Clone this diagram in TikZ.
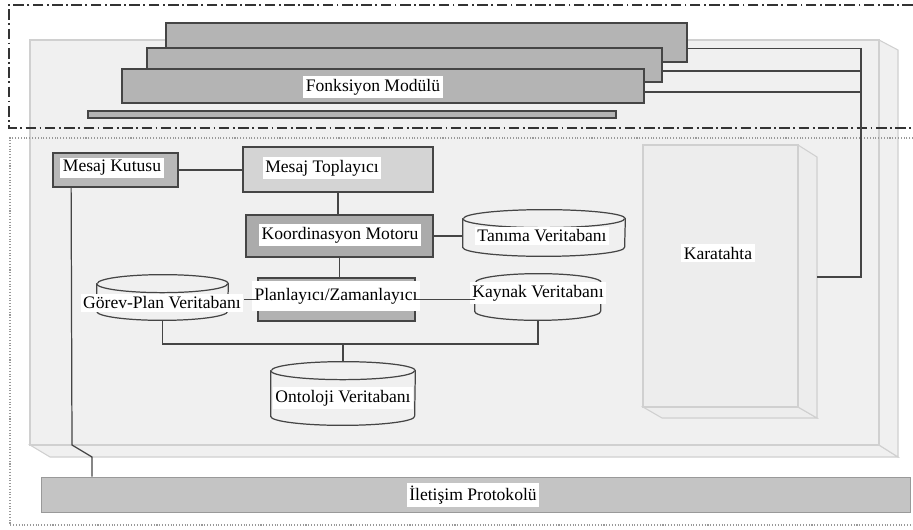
\documentclass[tikz,border=0pt]{standalone}
\usepackage{fontspec}
\setmainfont{Liberation Serif}
\usetikzlibrary{fit}
\definecolor{panelgray}{HTML}{F0F0F0}
\definecolor{edgegray}{HTML}{D0D0D0}
\definecolor{bargray}{HTML}{B4B4B4}
\definecolor{wiregray}{HTML}{454545}
% cylinder drawn round a fitted node: #1 node, #2 half width
\newcommand{\dbdraw}[2]{%
  \filldraw[dbline] ([yshift=-0.18cm]#1.north west) -- ([yshift=0.18cm]#1.south west)
    arc[start angle=180, end angle=360, x radius=#2, y radius=0.18cm]
    -- ([yshift=-0.18cm]#1.north east)
    arc[start angle=0, end angle=180, x radius=#2, y radius=0.18cm] -- cycle;
  \draw[dbline] ([yshift=-0.18cm]#1.north west)
    arc[start angle=180, end angle=360, x radius=#2, y radius=0.18cm];}
\begin{document}
\begin{tikzpicture}[x=0.02cm, y=-0.02cm,
    wire/.style={wiregray, line width=0.7pt},
    modbox/.style={draw=wiregray, line width=1pt, inner sep=0pt},
    lbl/.style={fill=white, inner sep=1.5pt, font=\fontsize{10}{12}\selectfont},
    dbline/.style={draw=wiregray, fill=panelgray, line width=0.7pt},
    dbase/.style={inner sep=0pt},
    face/.style={fill=panelgray, draw=edgegray, line width=0.6pt}]
\useasboundingbox (0,0) rectangle (913,530);

% big panel
\filldraw[face] (30,445) -- (50,457) -- (898,457) -- (879,445) -- cycle;
\filldraw[face] (879,40) -- (898,50) -- (898,457) -- (879,445) -- cycle;
\filldraw[face] (30,40) rectangle (879,445);

% frames
\draw[black!80, line width=0.9pt, dash pattern=on 6pt off 2pt on 1pt off 2pt]
    (913,5) -- (9,5) -- (9,128) -- (913,128);
\draw[black!40, densely dotted, line width=0.6pt]
    (913,138) -- (10,138) -- (10,525) -- (913,525);

% function modules
\node[modbox, fill=bargray, fit={(166,23) (687,62)}] (fm1) {};
\node[modbox, fill=bargray, fit={(147,48) (662,82)}] (fm2) {};
\node[modbox, fill=bargray, fit={(122,69) (644,103)}] (fm3) {};
\node[modbox, fill=bargray, line width=0.8pt, fit={(88,111) (616,118)}] (fm4) {};
\node[lbl] (fmt) at (373,87) {Fonksiyon Modülü};

% blackboard
\filldraw[face, fill=black!7] (643,407) -- (662,418) -- (817,418) -- (798,407) -- cycle;
\filldraw[face, fill=black!7] (798,145) -- (817,157) -- (817,418) -- (798,407) -- cycle;
\node[face, fill=black!7, inner sep=0pt, fit={(643,145) (798,407)}] (kt) {};
\node[lbl] (ktt) at (718,253) {Karatahta};

% rail to blackboard
\coordinate (rail) at (861,48);
\coordinate (ktside) at (817,277);
\draw[wire] ([yshift=-0.12cm]fm1.east) -- ([yshift=-0.12cm]fm1.east -| rail);
\draw[wire] ([yshift=-0.12cm]fm2.east) -- ([yshift=-0.12cm]fm2.east -| rail);
\draw[wire] ([yshift=-0.12cm]fm3.east) -- ([yshift=-0.12cm]fm3.east -| rail);
\draw[wire] (rail) -- (rail |- ktside) -- (ktside);

% boxes
\node[modbox, fill=black!28, fit={(53,153) (178,187)}] (mk) {};
\node[lbl] (mkt) at (112,168) {Mesaj Kutusu};
\node[modbox, fill=black!17, line width=0.8pt, fit={(243,147) (433,192)}] (mt) {};
\node[lbl] (mtt) at (322,168) {Mesaj Toplayıcı};
\node[modbox, fill=black!33, line width=1.3pt, fit={(246,215) (433,257)}] (km) {};
\node[lbl] (kmt) at (340,235) {Koordinasyon Motoru};
\node[modbox, fill=black!30, line width=0.8pt, fit={(258,278) (415,321)}] (pz) {};
\node[lbl, minimum height=0.6cm, minimum width=3cm] (pzt) at (336,296) {Planlayıcı/Zamanlayıcı};

% databases
\node[dbase, fit={(463,210) (625,256)}] (tv) {};
\dbdraw{tv}{1.62cm}
\node[lbl] (tvt) at (542,236) {Tanıma Veritabanı};
\node[dbase, fit={(97,275) (228,320)}] (gp) {};
\dbdraw{gp}{1.31cm}
\node[lbl] (gpt) at (162,303) {Görev-Plan Veritabanı};
\node[dbase, fit={(475,274) (601,320)}] (kv) {};
\dbdraw{kv}{1.26cm}
\node[lbl] (kvt) at (538,293) {Kaynak Veritabanı};
\node[dbase, fit={(271,362) (415,425)}] (ot) {};
\dbdraw{ot}{1.44cm}
\node[lbl] (ott) at (343,398) {Ontoloji Veritabanı};

% communication protocol
\node[fill=black!23, draw=black!40, inner sep=0pt, fit={(41,477) (910,512)}] (ip) {};
\node[lbl] (ipt) at (473,495) {İletişim Protokolü};

% connectors
\draw[wire] (mk.east) -- (mk.east -| mt.west);
\draw[wire] (mt.south) -- (mt.south |- km.north);
\draw[wire] (km.south) -- (km.south |- pz.north);
\draw[wire] (km.east) -- (km.east -| tv.west);
\draw[wire] (gpt.east |- pz.west) -- (pz.west);
\draw[wire] (pz.east) -- (pz.east -| kv.west);
\coordinate (bus) at (343,344);
\draw[wire] (gp.south) |- (bus) -| (kv.south);
\draw[wire] (bus) -- (bus |- ot.north);
\coordinate (mkd) at (72,445);
\coordinate (mkk) at (92,457);
\draw[wire] ([xshift=0.38cm]mk.south west) -- (mkd) -- (mkk) -- (mkk |- ip.north);
\end{tikzpicture}
\end{document}
